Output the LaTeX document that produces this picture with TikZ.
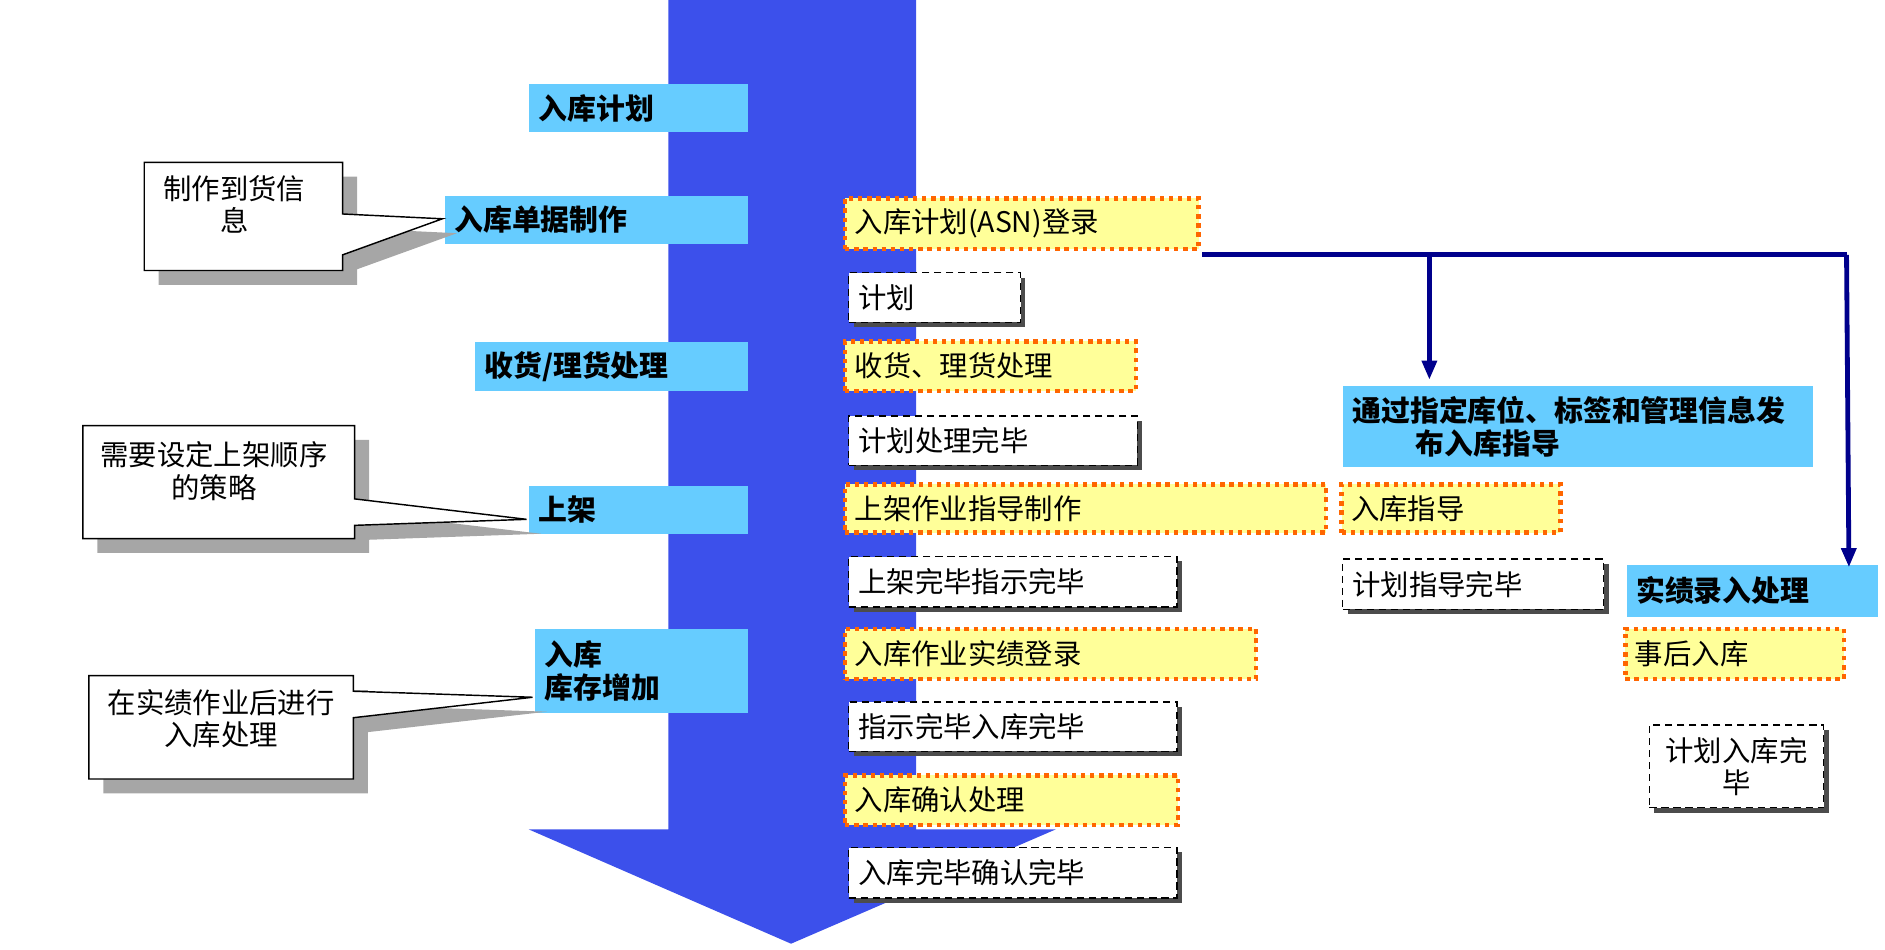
\documentclass[tikz,border=0pt]{standalone}
\usepackage{fontspec}
\setmainfont{Noto Sans CJK SC}
\usetikzlibrary{shadows,arrows.meta}
\definecolor{lblue}{RGB}{102,204,255}
\definecolor{ayel}{RGB}{255,255,153}
\definecolor{aor}{RGB}{255,102,0}
\definecolor{navy}{RGB}{0,0,140}
\definecolor{shaft}{RGB}{60,80,235}
\newcommand{\bx}[7]{%
  \pgfmathsetmacro{\bw}{(#5-#3)*0.5}\pgfmathsetmacro{\bh}{(#6-#4)*0.5}%
  \pgfmathsetmacro{\tw}{\bw-8}%
  \node[#1, minimum width=\bw pt, minimum height=\bh pt, text width=\tw pt] (#2) at ({(#3+#5)/2},{(#4+#6)/2}) {#7};}
\tikzset{
  txt/.style={inner sep=4pt, font=\fontsize{11.8}{13.5}\selectfont, align=left, anchor=center},
  lab/.style={txt, fill=lblue, font=\fontsize{12}{14}\selectfont\bfseries},
  ybox/.style={txt, fill=ayel, draw=aor, line width=1.8pt, dotted},
  wbox/.style={txt, fill=white, draw=black, densely dashed, line width=0.5pt,
    drop shadow={shadow xshift=2pt, shadow yshift=-2pt, fill=black!70, opacity=1}},
  callout/.style={fill=white, draw=black, line width=0.6pt},
  cshadow/.style={fill=black!35},
  conn/.style={draw=navy, line width=2pt},
}
\begin{document}
\begin{tikzpicture}[x=0.5pt,y=-0.5pt]
\useasboundingbox (0,0) rectangle (1568,790);
% big arrow
\fill[shaft] (556,0) -- (762,0) -- (762,690) -- (878,690) -- (658,785) -- (440,690) -- (556,690) -- cycle;
% labels
\bx{lab}{l1}{440}{70}{622}{110}{入库计划}
\bx{lab}{l2}{370}{163}{622}{203}{入库单据制作}
\bx{lab}{l3}{395}{285}{622}{325}{收货/理货处理}
\bx{lab}{l4}{440}{404}{622}{444}{上架}
\bx{lab}{l5}{445}{523}{622}{593}{入库\\库存增加}
% callouts
\fill[cshadow] (132,147) -- (297,147) -- (297,190) -- (380,194) -- (297,224) -- (297,237) -- (132,237) -- cycle;
\draw[callout] (120,135) -- (285,135) -- (285,178) -- (368,182) -- (285,212) -- (285,225) -- (120,225) -- cycle;
\node[txt, align=center] (c1) at (195,170) {制作到货信\\息};
\fill[cshadow] (81,366) -- (307,366) -- (307,427) -- (450,444) -- (307,449) -- (307,460) -- (81,460) -- cycle;
\draw[callout] (69,354) -- (295,354) -- (295,415) -- (438,432) -- (295,437) -- (295,448) -- (69,448) -- cycle;
\node[txt, align=center] (c2) at (178,392) {需要设定上架顺序\\的策略};
\fill[cshadow] (86,574) -- (306,574) -- (306,587) -- (455,592) -- (306,609) -- (306,660) -- (86,660) -- cycle;
\draw[callout] (74,562) -- (294,562) -- (294,575) -- (443,580) -- (294,597) -- (294,648) -- (74,648) -- cycle;
\node[txt, align=center] (c3) at (184,598) {在实绩作业后进行\\入库处理};
% yellow boxes
\bx{ybox}{y1}{703}{165}{997}{207}{入库计划(ASN)登录}
\bx{ybox}{y2}{703}{284}{945}{325}{收货、理货处理}
\bx{ybox}{y3}{703}{403}{1103}{443}{上架作业指导制作}
\bx{ybox}{y4}{703}{523}{1045}{565}{入库作业实绩登录}
\bx{ybox}{y5}{703}{645}{980}{686}{入库确认处理}
\bx{ybox}{y6}{1116}{403}{1298}{443}{入库指导}
\bx{ybox}{y7}{1352}{523}{1534}{565}{事后入库}
% white boxes
\bx{wbox}{w1}{706}{227}{849}{268}{计划}
\bx{wbox}{w2}{706}{346}{946}{387}{计划处理完毕}
\bx{wbox}{w3}{706}{463}{979}{505}{上架完毕指示完毕}
\bx{wbox}{w4}{706}{584}{979}{625}{指示完毕入库完毕}
\bx{wbox}{w5}{706}{705}{979}{747}{入库完毕确认完毕}
\bx{wbox}{w6}{1117}{465}{1334}{507}{计划指导完毕}
\bx{wbox, align=center}{w7}{1372}{603}{1517}{672}{计划入库完\\毕}
% right blue boxes
\bx{lab}{b1}{1117}{322}{1508}{388}{通过指定库位、标签和管理信息发\\\hspace*{2.2em}布入库指导}
\bx{lab}{b2}{1353}{470}{1562}{513}{实绩录入处理}
% connectors
\coordinate (s) at (1000,212);
\coordinate (j1) at (1189,212);
\coordinate (j2) at (1536,212);
\draw[conn] (s) -- (j2);
\draw[conn, -{Triangle[length=8pt,width=6pt]}] (j1) -- (1189,316);
\draw[conn, -{Triangle[length=8pt,width=6pt]}] (j2) -- (1538,472);
\end{tikzpicture}
\end{document}
